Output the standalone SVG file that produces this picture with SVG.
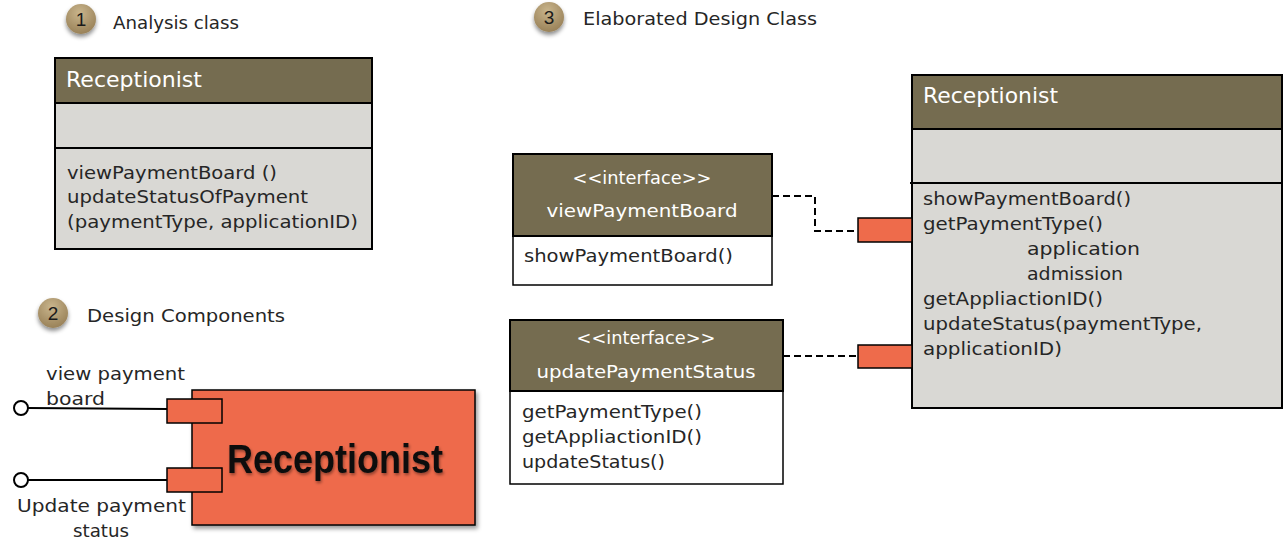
<svg xmlns="http://www.w3.org/2000/svg" width="1283" height="544" viewBox="0 0 1283 544">
<style>
text{font-family:"DejaVu Sans","Liberation Sans",sans-serif;fill:#262626;font-size:18px}
.hdr{fill:#756C50;stroke:#000;stroke-width:2}
.gray{fill:#D9D8D4;stroke:#000;stroke-width:2}
.white{fill:#fff;stroke:#000;stroke-width:1.5}
.ht{fill:#fff;font-size:22px}
.it{fill:#fff;font-size:18px}
.port{fill:#EE6B4B;stroke:#000;stroke-width:1.5}
.dash{fill:none;stroke:#000;stroke-width:2;stroke-dasharray:7,4}
.line{fill:none;stroke:#000;stroke-width:2}
.num{font-size:19px;fill:#1a1a1a;text-anchor:middle;font-family:"Liberation Sans",sans-serif}
.lbl{font-size:18px}
</style>
<defs>
<radialGradient id="badge" cx="0.45" cy="0.3" r="0.75">
<stop offset="0" stop-color="#C9B58C"/>
<stop offset="1" stop-color="#967E55"/>
</radialGradient>
<filter id="sh" x="-30%" y="-30%" width="170%" height="180%">
<feDropShadow dx="0" dy="3" stdDeviation="2" flood-color="#000" flood-opacity="0.45"/>
</filter>
<filter id="sh2" x="-10%" y="-10%" width="130%" height="130%">
<feDropShadow dx="2" dy="3" stdDeviation="2" flood-color="#000" flood-opacity="0.4"/>
</filter>
<filter id="tsh" x="-10%" y="-20%" width="130%" height="150%">
<feDropShadow dx="1" dy="2" stdDeviation="1.5" flood-color="#000" flood-opacity="0.4"/>
</filter>
</defs>

<g id="heading1">
<circle cx="81" cy="19" r="15" fill="url(#badge)" filter="url(#sh)"/>
<text class="num" x="81" y="26">1</text>
<text class="lbl" x="113" y="29" textLength="126" lengthAdjust="spacingAndGlyphs">Analysis class</text>
</g>
<g id="heading2">
<circle cx="53" cy="313" r="15" fill="url(#badge)" filter="url(#sh)"/>
<text class="num" x="53" y="320">2</text>
<text class="lbl" x="87" y="322" textLength="198" lengthAdjust="spacingAndGlyphs">Design Components</text>
</g>
<g id="heading3">
<circle cx="549" cy="17" r="15" fill="url(#badge)" filter="url(#sh)"/>
<text class="num" x="549" y="24">3</text>
<text class="lbl" x="583" y="25" textLength="234" lengthAdjust="spacingAndGlyphs">Elaborated Design Class</text>
</g>

<g id="analysis-class">
<rect class="gray" x="55" y="103" width="317" height="146"/>
<rect class="hdr" x="55" y="58" width="317" height="45"/>
<line class="line" x1="55" y1="148" x2="372" y2="148"/>
<text class="ht" x="66" y="87" textLength="136" lengthAdjust="spacingAndGlyphs">Receptionist</text>
<text x="67" y="179" textLength="210" lengthAdjust="spacingAndGlyphs">viewPaymentBoard ()</text>
<text x="67" y="203" textLength="241" lengthAdjust="spacingAndGlyphs">updateStatusOfPayment</text>
<text x="67" y="228" textLength="291" lengthAdjust="spacingAndGlyphs">(paymentType, applicationID)</text>
</g>

<g id="component">
<rect x="192" y="390" width="283" height="135" fill="#EE6B4B" stroke="#000" stroke-width="1.5" filter="url(#sh2)"/>
<text x="335" y="473" text-anchor="middle" style="font-family:'Liberation Sans',Arial,sans-serif;font-weight:bold;font-size:41px;fill:#111" textLength="216" lengthAdjust="spacingAndGlyphs" filter="url(#tsh)">Receptionist</text>
</g>
<g id="port-view">
<rect class="port" x="167" y="399" width="55" height="24"/>
<circle cx="21" cy="408" r="7" fill="#fff" stroke="#000" stroke-width="2"/>
<text class="lbl" x="46" y="380" textLength="139" lengthAdjust="spacingAndGlyphs">view payment</text>
<text class="lbl" x="46" y="405" textLength="59" lengthAdjust="spacingAndGlyphs">board</text>
</g>
<g id="port-update">
<rect class="port" x="167" y="468" width="55" height="24"/>
<circle cx="21" cy="480" r="7" fill="#fff" stroke="#000" stroke-width="2"/>
<text class="lbl" x="17" y="512" textLength="169" lengthAdjust="spacingAndGlyphs">Update payment</text>
<text class="lbl" x="73" y="537" textLength="56" lengthAdjust="spacingAndGlyphs">status</text>
</g>

<g id="iface-view">
<rect class="white" x="513" y="154" width="259" height="131"/>
<rect class="hdr" x="513" y="154" width="259" height="82" stroke-width="1.5"/>
<text class="it" x="642" y="184" text-anchor="middle" textLength="139" lengthAdjust="spacingAndGlyphs">&lt;&lt;interface&gt;&gt;</text>
<text class="it" x="642" y="217" text-anchor="middle" textLength="191" lengthAdjust="spacingAndGlyphs">viewPaymentBoard</text>
<text x="524" y="262" textLength="209" lengthAdjust="spacingAndGlyphs">showPaymentBoard()</text>
</g>

<g id="iface-update">
<rect class="white" x="510" y="320" width="273" height="164"/>
<rect class="hdr" x="510" y="320" width="273" height="71" stroke-width="1.5"/>
<text class="it" x="646" y="344" text-anchor="middle" textLength="139" lengthAdjust="spacingAndGlyphs">&lt;&lt;interface&gt;&gt;</text>
<text class="it" x="646" y="378" text-anchor="middle" textLength="219" lengthAdjust="spacingAndGlyphs">updatePaymentStatus</text>
<text x="522" y="418" textLength="180" lengthAdjust="spacingAndGlyphs">getPaymentType()</text>
<text x="522" y="443" textLength="180" lengthAdjust="spacingAndGlyphs">getAppliactionID()</text>
<text x="522" y="468" textLength="143" lengthAdjust="spacingAndGlyphs">updateStatus()</text>
</g>

<g id="design-class">
<rect class="gray" x="912" y="75" width="370" height="333"/>
<rect class="hdr" x="912" y="75" width="370" height="54"/>
<line class="line" x1="910" y1="183" x2="1282" y2="183"/>
<text class="ht" x="923" y="103" textLength="135" lengthAdjust="spacingAndGlyphs">Receptionist</text>
<text x="923" y="205" textLength="208" lengthAdjust="spacingAndGlyphs">showPaymentBoard()</text>
<text x="923" y="230" textLength="180" lengthAdjust="spacingAndGlyphs">getPaymentType()</text>
<text x="1027" y="255" textLength="113" lengthAdjust="spacingAndGlyphs">application</text>
<text x="1027" y="280" textLength="96" lengthAdjust="spacingAndGlyphs">admission</text>
<text x="923" y="305" textLength="180" lengthAdjust="spacingAndGlyphs">getAppliactionID()</text>
<text x="923" y="330" textLength="279" lengthAdjust="spacingAndGlyphs">updateStatus(paymentType,</text>
<text x="923" y="355" textLength="139" lengthAdjust="spacingAndGlyphs">applicationID)</text>
<rect class="port" x="858" y="218" width="54" height="24"/>
<rect class="port" x="858" y="345" width="54" height="23"/>
</g>

<g id="connectors">
<line class="line" x1="28" y1="408" x2="167" y2="409"/>
<line class="line" x1="28" y1="480" x2="167" y2="480"/>
<polyline class="dash" points="772,196 815,196 815,231 858,231"/>
<polyline class="dash" points="783,356 858,356"/>
</g>
</svg>
